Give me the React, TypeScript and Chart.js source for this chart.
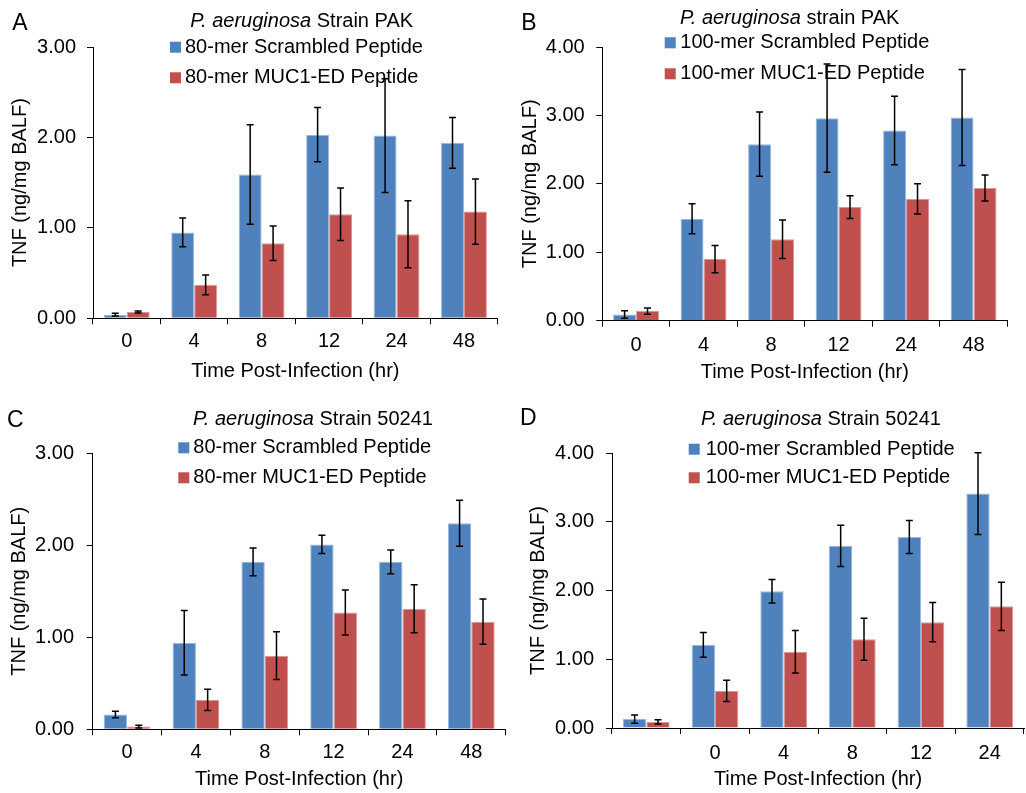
import React, { useEffect, useRef } from 'react';
import { Chart, registerables } from 'chart.js';

Chart.register(...registerables);

const FONT = "'Liberation Sans', Arial, Helvetica, sans-serif";
const BLUE = '#4F81BD';
const RED = '#C0504D';
const BLUE_EDGE = '#9DB6DC';
const RED_EDGE = '#D99795';

// ---------- Data ----------
const catsPAK = ['0', '4', '8', '12', '24', '48'];
const cats50241_80 = ['0', '4', '8', '12', '24', '48'];
const cats50241_100 = ['', '0', '4', '8', '12', '24'];

const labels80 = ['80-mer Scrambled Peptide', '80-mer MUC1-ED Peptide'];
const labels100 = ['100-mer Scrambled Peptide', '100-mer MUC1-ED Peptide'];

// Panel A
const scrA = [0.04, 0.95, 1.59, 2.03, 2.02, 1.94];
const scrErrA = [0.015, 0.16, 0.55, 0.3, 0.63, 0.28];
const mucA = [0.07, 0.37, 0.83, 1.15, 0.93, 1.18];
const mucErrA = [0.012, 0.11, 0.19, 0.29, 0.37, 0.36];

// Panel B
const scrB = [0.09, 1.49, 2.58, 2.96, 2.78, 2.97];
const scrErrB = [0.055, 0.22, 0.47, 0.79, 0.5, 0.7];
const mucB = [0.14, 0.9, 1.19, 1.66, 1.78, 1.94];
const mucErrB = [0.045, 0.2, 0.28, 0.165, 0.22, 0.19];

// Panel C
const scrC = [0.16, 0.94, 1.82, 2.01, 1.82, 2.24];
const scrErrC = [0.035, 0.35, 0.15, 0.1, 0.13, 0.25];
const mucC = [0.03, 0.32, 0.8, 1.27, 1.31, 1.17];
const mucErrC = [0.015, 0.115, 0.26, 0.245, 0.26, 0.245];

// Panel D
const scrD = [0.13, 1.21, 1.99, 2.65, 2.78, 3.41];
const scrErrD = [0.06, 0.18, 0.17, 0.3, 0.24, 0.595];
const mucD = [0.09, 0.54, 1.11, 1.29, 1.54, 1.77];
const mucErrD = [0.03, 0.155, 0.31, 0.305, 0.285, 0.35];

const yTitle = 'TNF (ng/mg BALF)';
const xTitle = 'Time Post-Infection (hr)';

type PanelCfg = {
  x: number; y: number; w: number; h: number;
  area: { left: number; top: number; right: number; bottom: number };
  yMax: number;
  cats: string[];
  labels: string[];
  series: number[][];
  errors: number[][];
  letter: string; letterX: number; letterY: number;
  titleItalic: string; titleRest: string; titleCX: number; titleY: number;
  legendBoxX: number; legendTextX: number; legendY: number[];
  xTickPad: number; xTitlePad: number; yTickPad: number; yTitlePad: number;
};

const panels: PanelCfg[] = [
  {
    x: 0, y: 0, w: 513, h: 396,
    area: { left: 93, top: 47, right: 497.7, bottom: 318.3 },
    yMax: 3, cats: catsPAK, labels: labels80,
    series: [scrA, mucA], errors: [scrErrA, mucErrA],
    letter: 'A', letterX: 12.3, letterY: 29.5,
    titleItalic: 'P. aeruginosa', titleRest: ' Strain PAK', titleCX: 301.7, titleY: 27,
    legendBoxX: 170, legendTextX: 185, legendY: [52.7, 83.3],
    xTickPad: 5.5, xTitlePad: 13, yTickPad: 11, yTitlePad: 8.5,
  },
  {
    x: 513, y: 0, w: 513, h: 396,
    area: { left: 89.3, top: 47, right: 494.3, bottom: 320.7 },
    yMax: 4, cats: catsPAK, labels: labels100,
    series: [scrB, mucB], errors: [scrErrB, mucErrB],
    letter: 'B', letterX: 8.3, letterY: 30,
    titleItalic: 'P. aeruginosa', titleRest: ' strain PAK', titleCX: 276.7, titleY: 24,
    legendBoxX: 151.7, legendTextX: 167.3, legendY: [48.3, 79.3],
    xTickPad: 7, xTitlePad: 12, yTickPad: 11.6, yTitlePad: 5.2,
  },
  {
    x: 0, y: 396, w: 513, h: 397,
    area: { left: 92.7, top: 57.3, right: 505.7, bottom: 333.3 },
    yMax: 3, cats: cats50241_80, labels: labels80,
    series: [scrC, mucC], errors: [scrErrC, mucErrC],
    letter: 'C', letterX: 7, letterY: 30.7,
    titleItalic: 'P. aeruginosa', titleRest: ' Strain 50241', titleCX: 313, titleY: 29,
    legendBoxX: 178.3, legendTextX: 193.3, legendY: [57.3, 87.3],
    xTickPad: 5.5, xTitlePad: 1.3, yTickPad: 12.7, yTitlePad: 7.7,
  },
  {
    x: 513, y: 396, w: 513, h: 397,
    area: { left: 99, top: 57, right: 511, bottom: 332 },
    yMax: 4, cats: cats50241_100, labels: labels100,
    series: [scrD, mucD], errors: [scrErrD, mucErrD],
    letter: 'D', letterX: 7, letterY: 28.5,
    titleItalic: 'P. aeruginosa', titleRest: ' Strain 50241', titleCX: 308, titleY: 29.3,
    legendBoxX: 175.7, legendTextX: 192.7, legendY: [58.7, 87.3],
    xTickPad: 7, xTitlePad: 1.3, yTickPad: 12, yTitlePad: 13.5,
  },
];

function makeDecor(cfg: PanelCfg) {
  return {
    id: 'decor',
    beforeDatasetsDraw(chart: any) {
      const ctx = chart.ctx as CanvasRenderingContext2D;
      ctx.save();
      ctx.fillStyle = '#000';
      ctx.textAlign = 'left';
      ctx.textBaseline = 'alphabetic';
      ctx.font = `23px ${FONT}`;
      ctx.fillText(cfg.letter, cfg.letterX, cfg.letterY);
      const fi = `italic 20px ${FONT}`;
      const fn = `20px ${FONT}`;
      ctx.font = fi;
      const w1 = ctx.measureText(cfg.titleItalic).width;
      ctx.font = fn;
      const w2 = ctx.measureText(cfg.titleRest).width;
      const x0 = cfg.titleCX - (w1 + w2) / 2;
      ctx.font = fi;
      ctx.fillText(cfg.titleItalic, x0, cfg.titleY);
      ctx.font = fn;
      ctx.fillText(cfg.titleRest, x0 + w1, cfg.titleY);
      chart.data.datasets.forEach((ds: any, i: number) => {
        const by = cfg.legendY[i];
        ctx.fillStyle = ds.backgroundColor;
        ctx.fillRect(cfg.legendBoxX, by - 11, 11, 11);
        ctx.fillStyle = '#000';
        ctx.fillText(ds.label, cfg.legendTextX, by);
      });
      ctx.restore();
    },
    afterDatasetsDraw(chart: any) {
      const ctx = chart.ctx as CanvasRenderingContext2D;
      const ys = chart.scales.y;
      ctx.save();
      ctx.strokeStyle = '#000';
      ctx.lineWidth = 1.5;
      chart.data.datasets.forEach((ds: any, i: number) => {
        const meta = chart.getDatasetMeta(i);
        const errs = cfg.errors[i];
        meta.data.forEach((el: any, j: number) => {
          const v = ds.data[j];
          const e = errs[j];
          const top = ys.getPixelForValue(v + e);
          const bot = ys.getPixelForValue(Math.max(0, v - e));
          const x = el.x;
          ctx.beginPath();
          ctx.moveTo(x, top);
          ctx.lineTo(x, bot);
          ctx.moveTo(x - 3.5, top);
          ctx.lineTo(x + 3.5, top);
          ctx.moveTo(x - 3.5, bot);
          ctx.lineTo(x + 3.5, bot);
          ctx.stroke();
        });
      });
      ctx.restore();
    },
  };
}

function Panel({ cfg }: { cfg: PanelCfg }) {
  const ref = useRef<HTMLCanvasElement>(null);
  useEffect(() => {
    const font = { family: FONT, size: 20 };
    const chart = new Chart(ref.current as HTMLCanvasElement, {
      type: 'bar',
      data: {
        labels: cfg.cats,
        datasets: [
          {
            label: cfg.labels[0],
            data: cfg.series[0],
            backgroundColor: BLUE,
            borderColor: BLUE_EDGE,
            borderWidth: 1,
          },
          {
            label: cfg.labels[1],
            data: cfg.series[1],
            backgroundColor: RED,
            borderColor: RED_EDGE,
            borderWidth: 1,
          },
        ],
      },
      options: {
        responsive: false,
        animation: false,
        devicePixelRatio: 1,
        categoryPercentage: 0.68,
        barPercentage: 1,
        layout: {
          padding: { left: 0, top: cfg.area.top, right: cfg.w - cfg.area.right, bottom: 0 },
        },
        plugins: {
          legend: { display: false },
          title: { display: false },
          tooltip: { enabled: false },
        },
        scales: {
          x: {
            type: 'category',
            offset: true,
            grid: {
              display: true,
              drawOnChartArea: false,
              drawTicks: true,
              tickLength: 6,
              color: '#000',
              offset: true,
            },
            border: { display: true, color: '#000', width: 1 },
            ticks: { color: '#000', font, padding: cfg.xTickPad, maxRotation: 0, autoSkip: false },
            title: {
              display: true,
              text: xTitle,
              color: '#000',
              font,
              padding: { top: 0, bottom: cfg.xTitlePad },
            },
            afterFit: (s: any) => {
              s.height = cfg.h - cfg.area.bottom;
            },
          },
          y: {
            min: 0,
            max: cfg.yMax,
            grid: {
              display: true,
              drawOnChartArea: false,
              drawTicks: true,
              tickLength: 6,
              color: '#000',
            },
            border: { display: true, color: '#000', width: 1 },
            ticks: {
              stepSize: 1,
              color: '#000',
              font,
              padding: cfg.yTickPad,
              callback: (v: any) => Number(v).toFixed(2),
            },
            title: {
              display: true,
              text: yTitle,
              color: '#000',
              font,
              padding: { top: cfg.yTitlePad, bottom: 0 },
            },
            afterFit: (s: any) => {
              s.width = cfg.area.left;
            },
          },
        },
      } as any,
      plugins: [makeDecor(cfg)],
    });
    return () => chart.destroy();
  }, [cfg]);
  return (
    <canvas
      ref={ref}
      width={cfg.w}
      height={cfg.h}
      style={{ position: 'absolute', left: cfg.x, top: cfg.y, width: cfg.w, height: cfg.h }}
    />
  );
}

export default function App() {
  return (
    <div
      style={{
        position: 'absolute',
        left: 0,
        top: 0,
        width: 1026,
        height: 793,
        background: '#fff',
        overflow: 'hidden',
      }}
    >
      {panels.map((p) => (
        <Panel key={p.letter} cfg={p} />
      ))}
    </div>
  );
}
